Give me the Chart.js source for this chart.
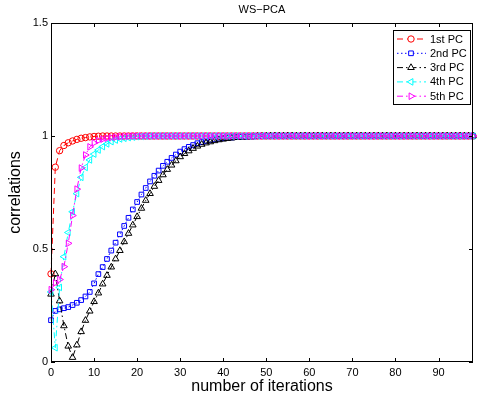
<!DOCTYPE html>
<html>
<head>
<meta charset="utf-8">
<script src="https://cdn.jsdelivr.net/npm/chart.js@4.4.1/dist/chart.umd.min.js"></script>
<style>
  html, body { margin: 0; padding: 0; background: #fff; }
  #chart { display: block; }
</style>
</head>
<body>
<canvas id="chart" width="478" height="403"></canvas>
<script>
// WS-PCA: correlation of each estimated PC against iteration count.

const iterations = [
    0, 1, 2, 3, 4, 5, 6, 7, 8, 9,
    10, 11, 12, 13, 14, 15, 16, 17, 18, 19,
    20, 21, 22, 23, 24, 25, 26, 27, 28, 29,
    30, 31, 32, 33, 34, 35, 36, 37, 38, 39,
    40, 41, 42, 43, 44, 45, 46, 47, 48, 49,
    50, 51, 52, 53, 54, 55, 56, 57, 58, 59,
    60, 61, 62, 63, 64, 65, 66, 67, 68, 69,
    70, 71, 72, 73, 74, 75, 76, 77, 78, 79,
    80, 81, 82, 83, 84, 85, 86, 87, 88, 89,
    90, 91, 92, 93, 94, 95, 96, 97, 98,
];

const pc1 = [
    0.39, 0.862, 0.935, 0.958, 0.970, 0.978, 0.985, 0.990, 0.993, 0.996,
    0.998, 0.999, 1, 1, 1, 1, 1, 1, 1, 1,
    1, 1, 1, 1, 1, 1, 1, 1, 1, 1,
    1, 1, 1, 1, 1, 1, 1, 1, 1, 1,
    1, 1, 1, 1, 1, 1, 1, 1, 1, 1,
    1, 1, 1, 1, 1, 1, 1, 1, 1, 1,
    1, 1, 1, 1, 1, 1, 1, 1, 1, 1,
    1, 1, 1, 1, 1, 1, 1, 1, 1, 1,
    1, 1, 1, 1, 1, 1, 1, 1, 1, 1,
    1, 1, 1, 1, 1, 1, 1, 1, 1,
];

const pc2 = [
    0.185, 0.226, 0.233, 0.238, 0.243, 0.252, 0.262, 0.274, 0.290, 0.310,
    0.348, 0.389, 0.420, 0.456, 0.493, 0.528, 0.565, 0.602, 0.638, 0.675,
    0.708, 0.741, 0.770, 0.799, 0.824, 0.847, 0.868, 0.886, 0.903, 0.918,
    0.931, 0.942, 0.952, 0.960, 0.968, 0.973, 0.978, 0.982, 0.985, 0.988,
    0.990, 0.992, 0.993, 0.995, 0.996, 0.997, 0.998, 0.998, 0.999, 0.999,
    1, 1, 1, 1, 1, 1, 1, 1, 1, 1,
    1, 1, 1, 1, 1, 1, 1, 1, 1, 1,
    1, 1, 1, 1, 1, 1, 1, 1, 1, 1,
    1, 1, 1, 1, 1, 1, 1, 1, 1, 1,
    1, 1, 1, 1, 1, 1, 1, 1, 1,
];

const pc3 = [
    0.30, 0.39, 0.27, 0.16, 0.07, 0.02, 0.075, 0.134, 0.184, 0.225,
    0.267, 0.305, 0.345, 0.383, 0.420, 0.456, 0.493, 0.532, 0.569, 0.606,
    0.643, 0.680, 0.715, 0.745, 0.777, 0.803, 0.828, 0.852, 0.871, 0.890,
    0.908, 0.922, 0.934, 0.945, 0.955, 0.963, 0.969, 0.974, 0.979, 0.983,
    0.986, 0.989, 0.991, 0.993, 0.994, 0.995, 0.996, 0.997, 0.998, 0.998,
    0.999, 1, 1, 1, 1, 1, 1, 1, 1, 1,
    1, 1, 1, 1, 1, 1, 1, 1, 1, 1,
    1, 1, 1, 1, 1, 1, 1, 1, 1, 1,
    1, 1, 1, 1, 1, 1, 1, 1, 1, 1,
    1, 1, 1, 1, 1, 1, 1, 1, 1,
];

const pc4 = [
    0.31, 0.063, 0.33, 0.466, 0.573, 0.665, 0.745, 0.817, 0.861, 0.894,
    0.920, 0.938, 0.953, 0.965, 0.975, 0.982, 0.987, 0.990, 0.993, 0.995,
    0.997, 0.998, 0.999, 1, 1, 1, 1, 1, 1, 1,
    1, 1, 1, 1, 1, 1, 1, 1, 1, 1,
    1, 1, 1, 1, 1, 1, 1, 1, 1, 1,
    1, 1, 1, 1, 1, 1, 1, 1, 1, 1,
    1, 1, 1, 1, 1, 1, 1, 1, 1, 1,
    1, 1, 1, 1, 1, 1, 1, 1, 1, 1,
    1, 1, 1, 1, 1, 1, 1, 1, 1, 1,
    1, 1, 1, 1, 1, 1, 1, 1, 1,
];

const pc5 = [
    0.32, 0.35, 0.365, 0.422, 0.525, 0.648, 0.765, 0.858, 0.916, 0.952,
    0.970, 0.980, 0.986, 0.990, 0.993, 0.995, 0.997, 0.998, 0.999, 1,
    1, 1, 1, 1, 1, 1, 1, 1, 1, 1,
    1, 1, 1, 1, 1, 1, 1, 1, 1, 1,
    1, 1, 1, 1, 1, 1, 1, 1, 1, 1,
    1, 1, 1, 1, 1, 1, 1, 1, 1, 1,
    1, 1, 1, 1, 1, 1, 1, 1, 1, 1,
    1, 1, 1, 1, 1, 1, 1, 1, 1, 1,
    1, 1, 1, 1, 1, 1, 1, 1, 1, 1,
    1, 1, 1, 1, 1, 1, 1, 1, 1,
];

const xTicks = [0, 10, 20, 30, 40, 50, 60, 70, 80, 90];
const yTicks = [0, 0.5, 1, 1.5];

const SERIES = [
    { label: '1st PC', data: pc1, color: '#ff0000', dash: [6, 4],         style: 'circle',   rot: 0,   r: 3.2 },
    { label: '2nd PC', data: pc2, color: '#0000ff', dash: [1.5, 2.5],     style: 'rect',     rot: 0,   r: 3.3 },
    { label: '3rd PC', data: pc3, color: '#000000', dash: [6, 3, 1.5, 3], style: 'triangle', rot: 0,   r: 3.8 },
    { label: '4th PC', data: pc4, color: '#00ffff', dash: [6, 3, 1.5, 3], style: 'triangle', rot: -90, r: 3.8 },
    { label: '5th PC', data: pc5, color: '#ff00ff', dash: [6, 3, 1.5, 3], style: 'triangle', rot: 90,  r: 3.8 },
];

const FONT = '"Liberation Sans", Arial, Helvetica, sans-serif';

// MATLAB-style box: frame, inward ticks, titles, legend
const axesBox = {
    id: 'axesBox',
    afterDraw(chart) {
        const { ctx, chartArea: a, scales: { x, y } } = chart;
        ctx.save();
        ctx.strokeStyle = '#000';
        ctx.lineWidth = 1;
        ctx.setLineDash([]);
        ctx.strokeRect(a.left + 0.5, a.top + 0.5, a.right - a.left - 1, a.bottom - a.top - 1);

        ctx.beginPath();
        xTicks.forEach(v => {
            const px = Math.round(x.getPixelForValue(v)) + 0.5;
            ctx.moveTo(px, a.bottom); ctx.lineTo(px, a.bottom - 4);
            ctx.moveTo(px, a.top); ctx.lineTo(px, a.top + 4);
        });
        yTicks.forEach(v => {
            const py = Math.round(y.getPixelForValue(v)) + 0.5;
            ctx.moveTo(a.left, py); ctx.lineTo(a.left + 4, py);
            ctx.moveTo(a.right, py); ctx.lineTo(a.right - 4, py);
        });
        ctx.stroke();

        ctx.fillStyle = '#000';
        ctx.textAlign = 'center';
        ctx.textBaseline = 'middle';
        ctx.font = `11px ${FONT}`;
        ctx.fillText('WS\u2212PCA', (a.left + a.right) / 2, 10);

        ctx.font = `16px ${FONT}`;
        ctx.fillText('number of iterations', (a.left + a.right) / 2, 387);
        ctx.save();
        ctx.translate(16, (a.top + a.bottom) / 2);
        ctx.rotate(-Math.PI / 2);
        ctx.fillText('correlations', 0, 0);
        ctx.restore();

        // legend
        const lx = 393, ly = 30, lw = 77, lh = 74;
        ctx.fillStyle = '#fff';
        ctx.fillRect(lx, ly, lw, lh);
        ctx.strokeRect(lx + 0.5, ly + 0.5, lw, lh);
        ctx.font = `11px ${FONT}`;
        ctx.textAlign = 'left';
        SERIES.forEach((s, i) => {
            const ry = ly + 9 + i * 14.3;
            ctx.strokeStyle = s.color;
            ctx.setLineDash(s.dash);
            ctx.beginPath();
            ctx.moveTo(lx + 4, ry); ctx.lineTo(lx + 33, ry);
            ctx.stroke();
            ctx.setLineDash([]);
            ctx.fillStyle = '#fff';
            ctx.lineWidth = 1;
            Chart.helpers.drawPoint(ctx, {
                pointStyle: s.style, rotation: s.rot, radius: s.r, borderWidth: 1,
            }, lx + 18, ry);
            ctx.fillStyle = '#000';
            ctx.fillText(s.label, lx + 37, ry + 0.5);
        });
        ctx.restore();
    },
};

new Chart(document.getElementById('chart'), {
    type: 'line',
    data: {
        labels: iterations,
        datasets: SERIES.map((s, i) => ({
            label: s.label,
            data: s.data,
            borderColor: s.color,
            borderWidth: 1,
            borderDash: s.dash,
            pointStyle: s.style,
            rotation: s.rot,
            pointRadius: s.r,
            pointBorderWidth: 1,
            pointBorderColor: s.color,
            pointBackgroundColor: 'rgba(0,0,0,0)',
            fill: false,
            tension: 0,
            clip: false,
            order: SERIES.length - i,
        })),
    },
    options: {
        responsive: false,
        animation: false,
        layout: { padding: { top: 23, right: 1, left: 0, bottom: 0 } },
        plugins: {
            legend: { display: false },
            title: { display: false },
            tooltip: { enabled: false },
        },
        scales: {
            x: {
                type: 'linear',
                min: 0, max: 98,
                afterBuildTicks: sc => { sc.ticks = xTicks.map(v => ({ value: v })); },
                afterFit: sc => { sc.height = 41; },
                grid: { display: false, drawTicks: false },
                border: { display: false },
                ticks: { color: '#000', font: { size: 11, family: FONT }, padding: 4, maxRotation: 0, autoSkip: false,
                         callback: v => String(v) },
            },
            y: {
                min: 0, max: 1.5,
                afterBuildTicks: sc => { sc.ticks = yTicks.map(v => ({ value: v })); },
                afterFit: sc => { sc.width = 51; },
                grid: { display: false, drawTicks: false },
                border: { display: false },
                ticks: { color: '#000', font: { size: 11, family: FONT }, padding: 3,
                         callback: v => String(v) },
            },
        },
    },
    plugins: [axesBox],
});
</script>
</body>
</html>
